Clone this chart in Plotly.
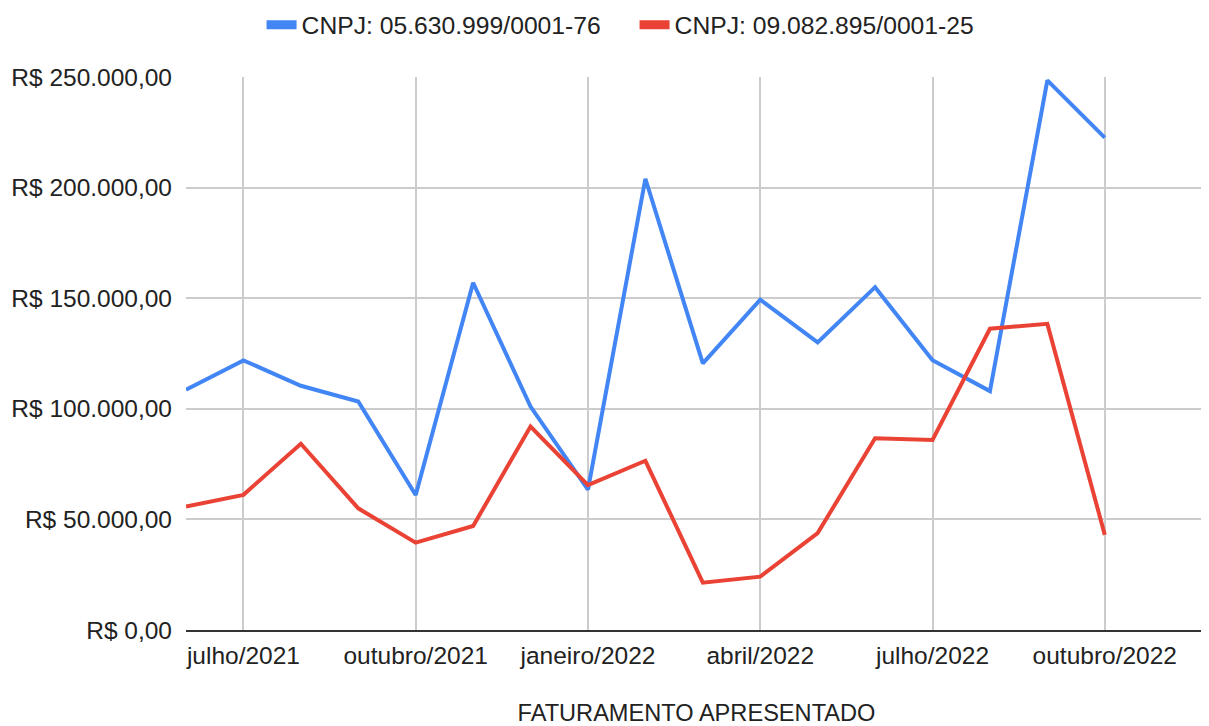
import plotly.graph_objects as go

months = ["junho/2021", "julho/2021", "agosto/2021", "setembro/2021", "outubro/2021",
          "novembro/2021", "dezembro/2021", "janeiro/2022", "fevereiro/2022", "março/2022",
          "abril/2022", "maio/2022", "junho/2022", "julho/2022", "agosto/2022",
          "setembro/2022", "outubro/2022"]

cnpj_a_name = "CNPJ: 05.630.999/0001-76"
cnpj_a = [108600, 121900, 110400, 103300, 61000, 157000, 101000, 63500, 204000, 120500,
          149300, 130000, 155000, 122000, 108000, 248500, 222600]

cnpj_b_name = "CNPJ: 09.082.895/0001-25"
cnpj_b = [55800, 61100, 84200, 55000, 39500, 47000, 92000, 65500, 76500, 21400,
          24100, 43800, 86700, 85900, 136200, 138400, 43000]

x_tickvals = ["julho/2021", "outubro/2021", "janeiro/2022", "abril/2022", "julho/2022", "outubro/2022"]
y_tickvals = [0, 50000, 100000, 150000, 200000, 250000]
y_ticktext = ["R$ 0,00", "R$ 50.000,00", "R$ 100.000,00", "R$ 150.000,00", "R$ 200.000,00", "R$ 250.000,00"]
x_title = "FATURAMENTO APRESENTADO"

BLUE = "#4285F4"
RED = "#EA4335"
FONT = "Liberation Sans, Arial, sans-serif"

fig = go.Figure()
fig.add_trace(go.Scatter(x=months, y=cnpj_a, mode="lines", line=dict(color=BLUE, width=4),
                         showlegend=False, name=cnpj_a_name))
fig.add_trace(go.Scatter(x=months, y=cnpj_b, mode="lines", line=dict(color=RED, width=4),
                         showlegend=False, name=cnpj_b_name))
# legend entries (thick swatches)
fig.add_trace(go.Scatter(x=[None], y=[None], mode="lines", line=dict(color=BLUE, width=9),
                         name=cnpj_a_name))
fig.add_trace(go.Scatter(x=[None], y=[None], mode="lines", line=dict(color=RED, width=9),
                         name=cnpj_b_name))

fig.update_layout(
    width=1201, height=718,
    margin=dict(l=178, r=2, t=69, b=96),
    paper_bgcolor="white", plot_bgcolor="white",
    font=dict(family=FONT, size=24.5, color="#222"),
    legend=dict(orientation="h", xref="container", yref="container",
                x=0.5217, xanchor="center", y=0.976, yanchor="middle",
                font=dict(size=24.7), itemwidth=30, entrywidth=328, entrywidthmode="pixels"),
    xaxis=dict(type="category", categoryorder="array", categoryarray=months,
               range=[0, 17.78], tickmode="array", tickvals=x_tickvals, ticktext=x_tickvals,
               showgrid=True, gridcolor="#CCCCCC", gridwidth=2,
               showline=True, linecolor="#333333", linewidth=2,
               ticks="", tickfont=dict(size=24.5), ticklabelstandoff=3,
               title=dict(text=x_title, font=dict(size=23.6), standoff=51), zeroline=False,
               automargin=False),
    yaxis=dict(range=[0, 250000], tickmode="array", tickvals=y_tickvals, ticktext=y_ticktext,
               showgrid=True, gridcolor="#CCCCCC", gridwidth=2, zeroline=False,
               showline=False, ticks="", ticklabelstandoff=13, tickfont=dict(size=24.5),
               automargin=False),
)

fig.write_html("out.html")
